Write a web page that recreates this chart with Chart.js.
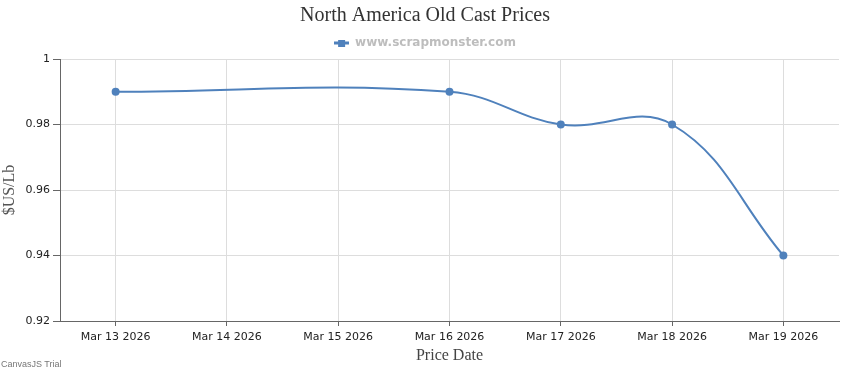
<!DOCTYPE html>
<html>
<head>
<meta charset="utf-8">
<title>North America Old Cast Prices</title>
<script src="https://cdn.jsdelivr.net/npm/chart.js@4.4.1/dist/chart.umd.min.js"></script>
<style>
  body { margin: 0; background: #fff; }
  #wrap { position: relative; width: 850px; height: 370px; }
  #trial { position: absolute; left: 1px; bottom: 1px; font: 9px "Liberation Sans", sans-serif; color: #777; }
</style>
</head>
<body>
<div id="wrap">
  <canvas id="myChart" width="850" height="370"></canvas>
  <div id="trial">CanvasJS Trial</div>
</div>
<script>
'use strict';

// dates on the x axis
var priceDates = ['Mar 13 2026', 'Mar 14 2026', 'Mar 15 2026', 'Mar 16 2026', 'Mar 17 2026', 'Mar 18 2026', 'Mar 19 2026'];
// prices, no quote on the 14th and 15th
var prices = [0.99, null, null, 0.99, 0.98, 0.98, 0.94];
var yTicks = [0.92, 0.94, 0.96, 0.98, 1];

var blue = '#4F81BC';

// legend marker: a short line with a square on it
var marker = document.createElement('canvas');
marker.width = 15;
marker.height = 7;
var mctx = marker.getContext('2d');
mctx.fillStyle = blue;
mctx.fillRect(0, 2, 15, 3);
mctx.fillRect(4, 0, 7, 7);

var ctx = document.getElementById('myChart').getContext('2d');

var myChart = new Chart(ctx, {
  type: 'line',
  data: {
    labels: priceDates,
    datasets: [{
      label: 'www.scrapmonster.com',
      data: prices,
      borderColor: blue,
      backgroundColor: blue,
      borderWidth: 2,
      pointRadius: 4,
      pointHoverRadius: 4,
      pointBackgroundColor: blue,
      pointBorderWidth: 0,
      tension: 0.4,
      spanGaps: true,
      fill: false
    }]
  },
  options: {
    responsive: false,
    animation: false,
    events: [],
    layout: { padding: 0 },
    plugins: {
      title: {
        display: true,
        text: 'North America Old Cast Prices',
        color: '#333',
        font: { family: '"Liberation Serif", serif', size: 20, weight: 'normal', lineHeight: 1.2 },
        padding: { top: 4, bottom: 0 }
      },
      legend: {
        display: true,
        labels: {
          color: '#bdbdbd',
          font: { family: '"DejaVu Sans", sans-serif', size: 12, weight: 'bold' },
          usePointStyle: true,
          pointStyleWidth: 15,
          padding: 9,
          generateLabels: function(chart) {
            return chart.data.datasets.map(function(ds, i) {
              return {
                text: ds.label,
                pointStyle: marker,
                fillStyle: blue,
                strokeStyle: blue,
                lineWidth: 0,
                fontColor: '#bdbdbd',
                datasetIndex: i
              };
            });
          }
        }
      },
      tooltip: { enabled: false }
    },
    scales: {
      x: {
        offset: true,
        grid: { color: '#dddddd', tickColor: '#666', tickLength: 5, offset: false },
        border: { color: '#666', width: 1 },
        ticks: {
          color: '#222',
          font: { family: '"DejaVu Sans", sans-serif', size: 11 },
          padding: 5,
          maxRotation: 0,
          autoSkip: false
        },
        title: {
          display: true,
          text: 'Price Date',
          color: '#444',
          font: { family: '"Liberation Serif", serif', size: 16 },
          padding: { top: 1, bottom: 5 }
        },
        afterFit: function(scale) { scale.height = 49; }
      },
      y: {
        min: yTicks[0],
        max: yTicks[yTicks.length - 1],
        grid: { color: '#dddddd', tickColor: '#666', tickLength: 7 },
        border: { color: '#666', width: 1 },
        afterBuildTicks: function(scale) {
          scale.ticks = yTicks.map(function(v) { return { value: v }; });
        },
        ticks: {
          color: '#222',
          font: { family: '"DejaVu Sans", sans-serif', size: 11 },
          padding: 3,
          callback: function(v) { return String(+Number(v).toFixed(2)); }
        },
        title: {
          display: true,
          text: '$US/Lb',
          color: '#555',
          font: { family: '"Liberation Serif", serif', size: 16 },
          padding: { top: 0, bottom: 0 }
        },
        afterFit: function(scale) { scale.width = 60; }
      },
      // empty strip on the right so title and legend stay centred on the canvas
      yRight: {
        position: 'right',
        display: true,
        grid: { display: false },
        border: { display: false },
        ticks: { display: false },
        afterFit: function(scale) { scale.width = 11; }
      }
    }
  }
});
</script>
</body>
</html>
